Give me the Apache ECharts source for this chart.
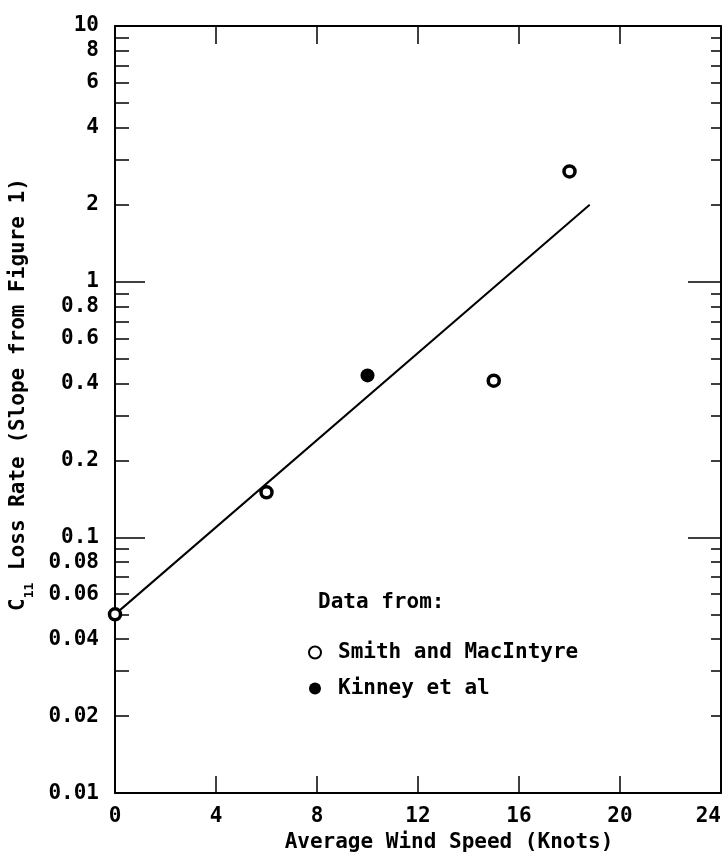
<!DOCTYPE html>
<html>
<head>
<meta charset="utf-8">
<title>C11 loss rate vs wind speed</title>
<script src="https://cdn.jsdelivr.net/npm/echarts@6/dist/echarts.min.js"></script>
<style>
html, body { margin: 0; padding: 0; background: #fff; }
#chart { width: 724px; height: 858px; }
</style>
</head>
<body>
<div id="chart"></div>
<script>
// x axis ticks (knots)
var xTicks = [0, 4, 8, 12, 16, 20, 24];
// y axis labels and ticks (log scale)
var yLabels = [0.01, 0.02, 0.04, 0.06, 0.08, 0.1, 0.2, 0.4, 0.6, 0.8, 1, 2, 4, 6, 8, 10];
var yMinor = [0.02, 0.03, 0.04, 0.05, 0.06, 0.07, 0.08, 0.09,
              0.2, 0.3, 0.4, 0.5, 0.6, 0.7, 0.8, 0.9,
              2, 3, 4, 5, 6, 7, 8, 9];
var yMajor = [0.1, 1];

// data
var smithX = [0, 6, 15, 18];
var smithY = [0.05, 0.15, 0.41, 2.7];
var kinneyX = [10];
var kinneyY = [0.43];
var fitX = [0, 18.8];
var fitY = [0.05, 2.0];

var FONT = 'DejaVu Sans Mono';

function pairs(xs, ys) {
	var out = [];
	for (var i = 0; i < xs.length; i++) out.push([xs[i], ys[i]]);
	return out;
}

var chart = echarts.init(document.getElementById('chart'));

function yAx(pos, ticks, len, showLine, showLabel) {
	return {
		type: 'log',
		logBase: 10,
		min: 0.01,
		max: 10,
		position: pos,
		axisLine: { show: showLine, lineStyle: { color: '#000', width: 2 } },
		axisTick: { show: true, inside: true, length: len, customValues: ticks,
			lineStyle: { color: '#000', width: 1.5 } },
		axisLabel: { show: showLabel, customValues: yLabels, margin: 16,
			color: '#000', fontFamily: FONT, fontSize: 21, fontWeight: 'bold',
			padding: [0, 0, 6, 0],
			formatter: function (v) { return String(+v.toPrecision(2)); } },
		splitLine: { show: false }
	};
}

var yLeft = yAx('left', yMinor, 14, true, true);
yLeft.name = '{n|C}{s|11}{n| Loss Rate (Slope from Figure 1)}';
yLeft.nameLocation = 'middle';
yLeft.nameRotate = 90;
yLeft.nameGap = 85;
yLeft.nameTextStyle = {
	padding: [0, 0, 0, 30],
	rich: {
		n: { fontFamily: FONT, fontSize: 21, fontWeight: 'bold', color: '#000', lineHeight: 22, verticalAlign: 'top' },
		s: { fontFamily: FONT, fontSize: 13, fontWeight: 'bold', color: '#000', lineHeight: 13, padding: [15, 0, 0, 0], verticalAlign: 'top' }
	}
};

var option = {
	animation: false,
	backgroundColor: '#fff',
	grid: { left: 113, right: 2, top: 26, bottom: 63 },
	title: {
		text: 'Data from:',
		left: 318,
		top: 592,
		padding: 0,
		textStyle: { fontFamily: FONT, fontSize: 21, fontWeight: 'bold', color: '#000' }
	},
	legend: {
		orient: 'vertical',
		left: 303,
		top: 637,
		itemWidth: 12,
		itemHeight: 12,
		itemGap: 15,
		data: ['Smith and MacIntyre', 'Kinney et al'],
		textStyle: { fontFamily: FONT, fontSize: 21, fontWeight: 'bold', color: '#000', padding: [0, 0, 0, 12] }
	},
	xAxis: [{
		type: 'value',
		min: 0,
		max: 24,
		interval: 4,
		position: 'bottom',
		name: 'Average Wind Speed (Knots)',
		nameLocation: 'middle',
		nameGap: 35,
		nameTextStyle: { fontFamily: FONT, fontSize: 21, fontWeight: 'bold', color: '#000', padding: [0, 0, 0, 62] },
		axisLine: { lineStyle: { color: '#000', width: 2 } },
		axisTick: { inside: true, length: 17, lineStyle: { color: '#000', width: 1.5 } },
		axisLabel: { margin: 13, color: '#000', fontFamily: FONT, fontSize: 21, fontWeight: 'bold',
			alignMaxLabel: 'right' },
		splitLine: { show: false }
	}, {
		type: 'value',
		min: 0,
		max: 24,
		interval: 4,
		position: 'top',
		axisLine: { lineStyle: { color: '#000', width: 2 } },
		axisTick: { inside: true, length: 18, lineStyle: { color: '#000', width: 1.5 } },
		axisLabel: { show: false },
		splitLine: { show: false }
	}],
	yAxis: [
		yLeft,
		yAx('left', yMajor, 30, false, false),
		yAx('right', yMinor, 10, true, false),
		yAx('right', yMajor, 33, false, false)
	],
	series: [{
		name: 'fit',
		type: 'line',
		data: pairs(fitX, fitY),
		showSymbol: false,
		symbol: 'none',
		lineStyle: { color: '#000', width: 2 },
		z: 1
	}, {
		name: 'Smith and MacIntyre',
		type: 'scatter',
		data: pairs(smithX, smithY),
		symbol: 'circle',
		symbolSize: 11,
		itemStyle: { color: '#fff', borderColor: '#000', borderWidth: 3.5, opacity: 1 },
		z: 3
	}, {
		name: 'Kinney et al',
		type: 'scatter',
		data: pairs(kinneyX, kinneyY),
		symbol: 'circle',
		symbolSize: 14,
		itemStyle: { color: '#000', opacity: 1 },
		z: 3
	}]
};

chart.setOption(option);
</script>
</body>
</html>
